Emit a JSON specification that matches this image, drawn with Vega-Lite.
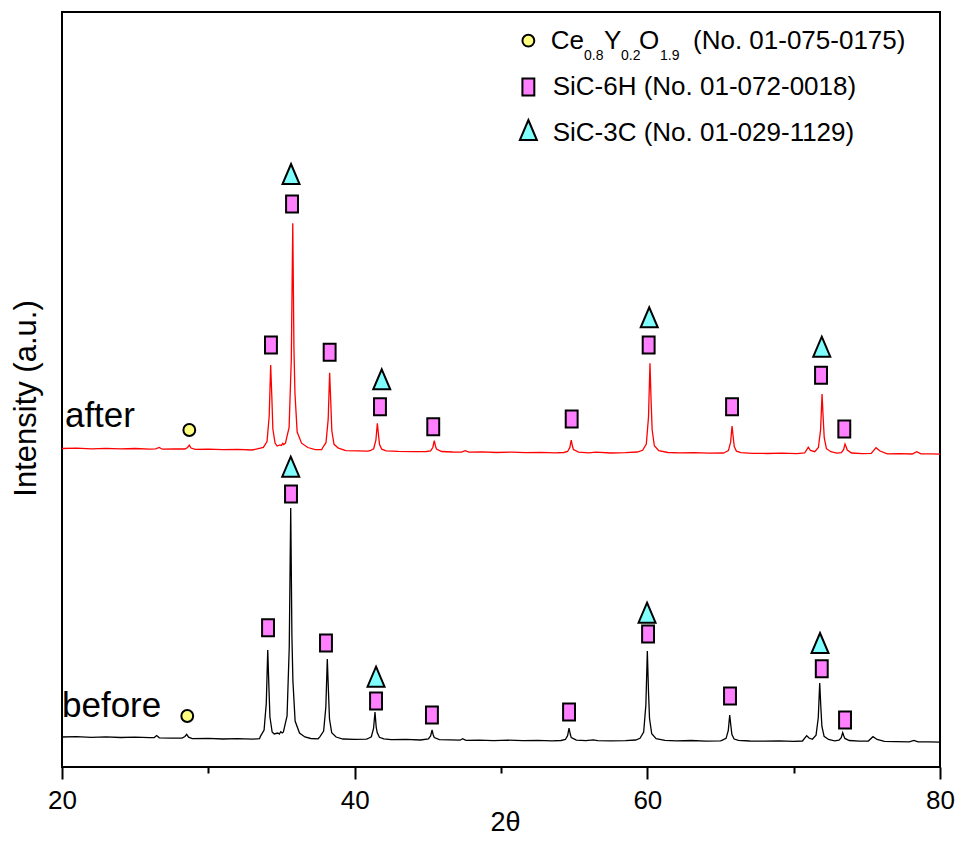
{
  "$schema": "https://vega.github.io/schema/vega-lite/v6.json",
  "width": 878,
  "height": 755,
  "autosize": {"type": "none"},
  "padding": {"left": 62, "top": 12, "right": 20, "bottom": 78},
  "config": {
    "font": "Liberation Sans",
    "view": {"stroke": "#000", "strokeWidth": 2},
    "axis": {"grid": false, "domain": false}
  },
  "datasets": {
    "before": [
      {"t":20.0,"i":30},{"t":21.0,"i":30.3},{"t":22.0,"i":29.6},{"t":23.0,"i":30.1},{"t":24.0,"i":29.5},{"t":25.0,"i":29.8},{"t":26.0,"i":29.3},{"t":26.3,"i":29.5},{"t":26.47,"i":31.5},{"t":26.65,"i":29.2},{"t":27.5,"i":28.8},{"t":28.2,"i":28.9},{"t":28.4,"i":30.5},{"t":28.52,"i":32.7},{"t":28.65,"i":29.8},{"t":28.9,"i":28.4},{"t":30.0,"i":28.6},{"t":31.0,"i":28.0},{"t":32.0,"i":28.3},{"t":33.0,"i":27.8},{"t":33.5,"i":28.4},
      {"t":33.56,"i":30.7},{"t":33.81,"i":36.9},{"t":33.96,"i":63.6},{"t":34.06,"i":117},{"t":34.14,"i":80},{"t":34.21,"i":50},{"t":34.36,"i":35},{"t":34.5,"i":33},{"t":34.75,"i":34},{"t":34.85,"i":33},{"t":34.95,"i":35.3},{"t":35.05,"i":34},
      {"t":35.13,"i":35},{"t":35.38,"i":51},{"t":35.53,"i":120},{"t":35.63,"i":259},{"t":35.71,"i":132},{"t":35.78,"i":86},{"t":35.93,"i":46},{"t":36.23,"i":34},{"t":36.6,"i":30},{"t":37.0,"i":28.5},{"t":37.5,"i":28.2},
      {"t":37.63,"i":30.4},{"t":37.88,"i":36},{"t":38.03,"i":60},{"t":38.13,"i":108},{"t":38.21,"i":75},{"t":38.28,"i":48},{"t":38.43,"i":34.4},{"t":38.73,"i":30},{"t":39.2,"i":28},{"t":40.0,"i":27.6},{"t":40.8,"i":27.9},
      {"t":40.89,"i":28.3},{"t":41.14,"i":30.3},{"t":41.29,"i":38.5},{"t":41.39,"i":55},{"t":41.47,"i":40},{"t":41.54,"i":34.4},{"t":41.69,"i":29.7},{"t":41.99,"i":28.2},{"t":42.5,"i":27.3},{"t":43.5,"i":27.6},{"t":44.5,"i":27.0},
      {"t":45.04,"i":28},{"t":45.19,"i":31},{"t":45.29,"i":37},{"t":45.37,"i":32},{"t":45.44,"i":29.5},{"t":45.79,"i":27.4},{"t":46.5,"i":27.1},{"t":47.2,"i":26.8},{"t":47.38,"i":28.3},{"t":47.6,"i":26.7},{"t":48.5,"i":26.9},{"t":49.5,"i":26.4},{"t":50.5,"i":26.8},{"t":51.5,"i":26.3},{"t":52.5,"i":26.6},{"t":53.5,"i":26.2},{"t":54.1,"i":26.5},
      {"t":54.4,"i":27.5},{"t":54.55,"i":31.3},{"t":54.65,"i":39},{"t":54.73,"i":33},{"t":54.8,"i":29.4},{"t":55.15,"i":26.8},{"t":55.8,"i":26.3},{"t":56.3,"i":27.2},{"t":56.6,"i":26.4},{"t":57.5,"i":26.1},{"t":58.5,"i":26.4},{"t":59.2,"i":27},
      {"t":59.5,"i":28.7},{"t":59.75,"i":35},{"t":59.9,"i":62},{"t":60.0,"i":116},{"t":60.08,"i":75},{"t":60.15,"i":48.5},{"t":60.3,"i":33.2},{"t":60.6,"i":28.3},{"t":61.2,"i":26.6},{"t":62.0,"i":26.2},{"t":63.0,"i":26.5},{"t":64.0,"i":25.9},{"t":65.0,"i":26.2},
      {"t":65.13,"i":26.8},{"t":65.38,"i":28.6},{"t":65.53,"i":36.4},{"t":65.63,"i":52},{"t":65.71,"i":41},{"t":65.78,"i":32.5},{"t":65.93,"i":28},{"t":66.23,"i":26.7},{"t":67.0,"i":26.0},{"t":68.0,"i":25.8},{"t":69.0,"i":26.1},{"t":70.0,"i":25.6},{"t":70.6,"i":26},{"t":70.89,"i":31.3},{"t":71.05,"i":29},
      {"t":71.28,"i":27.7},{"t":71.53,"i":31.8},{"t":71.68,"i":49},{"t":71.78,"i":84},{"t":71.86,"i":59},{"t":71.93,"i":40.5},{"t":72.08,"i":30.6},{"t":72.38,"i":27.5},{"t":72.8,"i":26.2},
      {"t":73.1,"i":26.8},{"t":73.25,"i":29.3},{"t":73.35,"i":34.3},{"t":73.43,"i":31},{"t":73.5,"i":28.6},{"t":73.8,"i":26.5},{"t":74.5,"i":25.8},{"t":75.1,"i":26},{"t":75.42,"i":30.3},{"t":75.7,"i":27.5},{"t":76.2,"i":25.6},{"t":77.0,"i":25.4},{"t":77.9,"i":25.2},{"t":78.22,"i":26.6},{"t":78.5,"i":25.1},{"t":79.2,"i":25.2},{"t":80.0,"i":24.8}
    ],
    "after": [
      {"t":20.0,"i":318.5},{"t":21.0,"i":318.9},{"t":22.0,"i":318.2},{"t":23.0,"i":318.7},{"t":24.0,"i":318.1},{"t":25.0,"i":318.5},{"t":26.0,"i":317.9},{"t":26.4,"i":318.2},{"t":26.65,"i":319.5},{"t":26.85,"i":317.8},{"t":27.7,"i":318.1},{"t":28.4,"i":318},{"t":28.58,"i":319.5},{"t":28.7,"i":321.8},{"t":28.82,"i":319},{"t":29.1,"i":317.6},{"t":30.0,"i":317.8},{"t":31.0,"i":317.3},{"t":32.0,"i":317.6},{"t":33.0,"i":317},
      {"t":33.76,"i":319.6},{"t":34.01,"i":325.5},{"t":34.16,"i":351},{"t":34.26,"i":402},{"t":34.34,"i":370},{"t":34.41,"i":338},{"t":34.56,"i":324},{"t":34.7,"i":321},{"t":34.9,"i":322},{"t":35.0,"i":321.5},{"t":35.08,"i":323.7},{"t":35.15,"i":322.5},
      {"t":35.27,"i":323.8},{"t":35.52,"i":339.7},{"t":35.67,"i":407.7},{"t":35.77,"i":543.7},{"t":35.85,"i":419},{"t":35.92,"i":373.7},{"t":36.07,"i":335},{"t":36.37,"i":323.8},{"t":36.8,"i":319.5},{"t":37.3,"i":317.4},{"t":37.75,"i":317.5},
      {"t":37.79,"i":318.8},{"t":38.04,"i":324.3},{"t":38.19,"i":347.6},{"t":38.29,"i":394.3},{"t":38.37,"i":364},{"t":38.44,"i":336},{"t":38.59,"i":322.7},{"t":38.89,"i":318.8},{"t":39.4,"i":316.4},{"t":40.2,"i":316.2},{"t":40.9,"i":315.8},
      {"t":41.05,"i":316.3},{"t":41.3,"i":318.3},{"t":41.45,"i":326.8},{"t":41.55,"i":343.7},{"t":41.63,"i":332},{"t":41.7,"i":322.5},{"t":41.85,"i":317.8},{"t":42.15,"i":316.2},{"t":43.0,"i":315.6},{"t":44.0,"i":315.3},{"t":44.9,"i":315.5},
      {"t":45.19,"i":316.1},{"t":45.34,"i":319.5},{"t":45.44,"i":326.3},{"t":45.52,"i":321},{"t":45.59,"i":318},{"t":45.94,"i":315.5},{"t":46.7,"i":315},{"t":47.3,"i":314.8},{"t":47.55,"i":316.3},{"t":47.8,"i":314.9},{"t":48.7,"i":315.1},{"t":49.7,"i":314.5},{"t":50.7,"i":314.9},{"t":51.7,"i":314.3},{"t":52.7,"i":314.7},{"t":53.7,"i":314.2},{"t":54.3,"i":314.5},
      {"t":54.55,"i":315.5},{"t":54.7,"i":319.3},{"t":54.8,"i":327},{"t":54.88,"i":321},{"t":54.95,"i":317.4},{"t":55.3,"i":314.8},{"t":56.0,"i":314.2},{"t":56.5,"i":314.8},{"t":57.5,"i":314},{"t":58.5,"i":314.3},{"t":59.3,"i":315},
      {"t":59.68,"i":316.7},{"t":59.93,"i":323},{"t":60.08,"i":350},{"t":60.18,"i":403.7},{"t":60.26,"i":364.7},{"t":60.33,"i":337},{"t":60.48,"i":321.2},{"t":60.78,"i":316.3},{"t":61.4,"i":314.5},{"t":62.2,"i":314.1},{"t":63.2,"i":314.4},{"t":64.2,"i":313.8},{"t":65.2,"i":314},
      {"t":65.29,"i":314.5},{"t":65.54,"i":316.4},{"t":65.69,"i":324.6},{"t":65.79,"i":341},{"t":65.87,"i":329.7},{"t":65.94,"i":320.5},{"t":66.09,"i":315.8},{"t":66.39,"i":314.4},{"t":67.2,"i":313.7},{"t":68.2,"i":313.5},{"t":69.2,"i":313.9},{"t":70.2,"i":313.4},{"t":70.75,"i":314},{"t":71.0,"i":319.7},{"t":71.15,"i":316.5},
      {"t":71.44,"i":315.3},{"t":71.69,"i":319.5},{"t":71.84,"i":337.3},{"t":71.94,"i":373},{"t":72.02,"i":348},{"t":72.09,"i":329},{"t":72.24,"i":318.3},{"t":72.54,"i":315.3},{"t":72.95,"i":313.8},
      {"t":73.26,"i":314.3},{"t":73.41,"i":317.3},{"t":73.51,"i":323},{"t":73.59,"i":320},{"t":73.66,"i":317},{"t":73.96,"i":314},{"t":74.7,"i":313.3},{"t":75.3,"i":313.6},{"t":75.63,"i":319.3},{"t":75.9,"i":316},{"t":76.4,"i":313.2},{"t":77.2,"i":313.4},{"t":78.1,"i":313},{"t":78.41,"i":315.3},{"t":78.7,"i":313.1},{"t":79.4,"i":313.2},{"t":80.0,"i":312.8}
    ],
    "markers": [
      {"t":28.56,"i":51,"p":"c"},{"t":34.08,"i":139.3,"p":"s"},{"t":35.63,"i":300.3,"p":"t"},{"t":35.65,"i":273,"p":"s"},{"t":38.04,"i":124,"p":"s"},{"t":41.46,"i":90.3,"p":"t"},{"t":41.46,"i":66,"p":"s"},{"t":45.28,"i":52,"p":"s"},{"t":54.65,"i":55,"p":"s"},{"t":60.05,"i":133,"p":"s"},{"t":59.98,"i":154.3,"p":"t"},{"t":65.65,"i":71,"p":"s"},{"t":71.92,"i":98.3,"p":"s"},{"t":71.8,"i":124,"p":"t"},{"t":73.51,"i":47,"p":"s"},
      {"t":28.7,"i":337,"p":"c"},{"t":34.28,"i":422,"p":"s"},{"t":35.65,"i":593,"p":"t"},{"t":35.72,"i":563,"p":"s"},{"t":38.29,"i":414.7,"p":"s"},{"t":41.85,"i":387.7,"p":"t"},{"t":41.73,"i":360.3,"p":"s"},{"t":45.37,"i":340.3,"p":"s"},{"t":54.83,"i":348,"p":"s"},{"t":60.09,"i":422,"p":"s"},{"t":60.13,"i":449.7,"p":"t"},{"t":65.79,"i":360.3,"p":"s"},{"t":71.87,"i":391.7,"p":"s"},{"t":71.92,"i":420.3,"p":"t"},{"t":73.46,"i":338,"p":"s"},
      {"t":51.87,"i":726.3,"p":"c"},{"t":51.87,"i":680,"p":"s"},{"t":51.87,"i":637,"p":"t"}
    ],
    "labels": [
      {"t":20.0,"i":50,"txt":"before"},
      {"t":20.2,"i":340,"txt":"after"}
    ],
    "legendMain": [
      {"t":53.4,"i":717.7,"txt":"Ce"},
      {"t":57.04,"i":717.7,"txt":"Y"},
      {"t":59.43,"i":717.7,"txt":"O"},
      {"t":63.12,"i":717.7,"txt":"(No. 01-075-0175)"},
      {"t":53.53,"i":672,"txt":"SiC-6H (No. 01-072-0018)"},
      {"t":53.53,"i":626.5,"txt":"SiC-3C (No. 01-029-1129)"}
    ],
    "legendSub": [
      {"t":55.67,"i":707,"txt":"0.8"},
      {"t":58.2,"i":707,"txt":"0.2"},
      {"t":60.87,"i":707,"txt":"1.9"}
    ]
  },
  "encoding": {
    "x": {
      "field": "t", "type": "quantitative",
      "scale": {"domain": [20, 80], "nice": false, "zero": false},
      "axis": {
        "values": [20, 30, 40, 50, 60, 70, 80],
        "labelExpr": "datum.value % 20 === 0 ? datum.label : ''",
        "labelFlush": false,
        "tickSize": {"condition": {"test": "datum.value % 20 === 0", "value": 12}, "value": 6},
        "tickWidth": 2, "tickColor": "#000",
        "labelFontSize": 26, "labelColor": "#000", "labelPadding": 8,
        "title": "2θ", "titleFontSize": 27, "titleFontWeight": "normal", "titleColor": "#000",
        "titleX": 443, "titleY": 63, "titleBaseline": "alphabetic"
      }
    },
    "y": {
      "field": "i", "type": "quantitative",
      "scale": {"domain": [0, 755], "nice": false, "zero": false},
      "axis": {
        "labels": false, "ticks": false,
        "title": "Intensity (a.u.)", "titleFontSize": 31, "titleFontWeight": "normal", "titleColor": "#000",
        "titleX": -27, "titleY": 386, "titleBaseline": "alphabetic"
      }
    }
  },
  "layer": [
    {"data": {"name": "before"}, "mark": {"type": "line", "color": "#000", "strokeWidth": 1.3}, "encoding": {}},
    {"data": {"name": "after"}, "mark": {"type": "line", "color": "#FF0000", "strokeWidth": 1.3}, "encoding": {}},
    {"data": {"name": "markers"}, "transform": [{"filter": "datum.p === 'c'"}],
     "mark": {"type": "point", "shape": "circle", "size": 140, "filled": true, "fill": "#FFFF80", "stroke": "#000", "strokeWidth": 2, "opacity": 1}},
    {"data": {"name": "markers"}, "transform": [{"filter": "datum.p === 's'"}],
     "mark": {"type": "point", "shape": "M-0.7,-1H0.7V1H-0.7Z", "size": 289, "filled": true, "fill": "#FF80FF", "stroke": "#000", "strokeWidth": 2, "opacity": 1}},
    {"data": {"name": "markers"}, "transform": [{"filter": "datum.p === 't'"}],
     "mark": {"type": "point", "shape": "M0,-1L0.85,1H-0.85Z", "size": 400, "filled": true, "fill": "#80FFFF", "stroke": "#000", "strokeWidth": 2, "opacity": 1}},
    {"data": {"name": "labels"}, "mark": {"type": "text", "align": "left", "baseline": "alphabetic", "fontSize": 35, "color": "#000"},
     "encoding": {"text": {"field": "txt"}}},
    {"data": {"name": "legendMain"}, "mark": {"type": "text", "align": "left", "baseline": "alphabetic", "fontSize": 26, "color": "#000"},
     "encoding": {"text": {"field": "txt"}}},
    {"data": {"name": "legendSub"}, "mark": {"type": "text", "align": "left", "baseline": "alphabetic", "fontSize": 14, "color": "#000"},
     "encoding": {"text": {"field": "txt"}}}
  ]
}
